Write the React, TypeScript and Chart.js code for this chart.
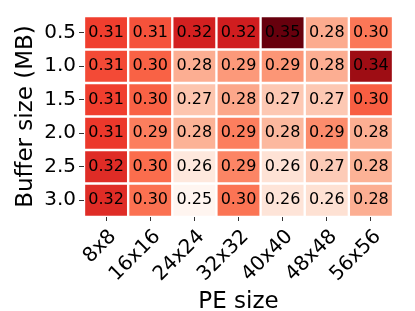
import React, { useEffect, useRef } from 'react';
import { Chart, registerables } from 'chart.js';

Chart.register(...registerables);

const peSizes = ['8x8', '16x16', '24x24', '32x32', '40x40', '48x48', '56x56'];
const bufferSizes = ['0.5', '1.0', '1.5', '2.0', '2.5', '3.0'];

const row05 = [0.311, 0.306, 0.321, 0.322, 0.3475, 0.281, 0.296];
const row10 = [0.308, 0.302, 0.280, 0.286, 0.287, 0.280, 0.337];
const row15 = [0.311, 0.302, 0.273, 0.282, 0.272, 0.272, 0.303];
const row20 = [0.313, 0.294, 0.279, 0.294, 0.277, 0.290, 0.280];
const row25 = [0.317, 0.299, 0.260, 0.292, 0.263, 0.271, 0.279];
const row30 = [0.317, 0.298, 0.2525, 0.297, 0.262, 0.264, 0.280];
const values = [row05, row10, row15, row20, row25, row30];

const FONT = '"DejaVu Sans", sans-serif';

const redsStops = ['#fff5f0', '#fee0d2', '#fcbba1', '#fc9272', '#fb6a4a', '#ef3b2c', '#cb181d', '#a50f15', '#67000d'];

function hexToRgb(h: string) {
  return [parseInt(h.slice(1, 3), 16), parseInt(h.slice(3, 5), 16), parseInt(h.slice(5, 7), 16)];
}

function reds(t: number) {
  const tt = Math.max(0, Math.min(1, t));
  const n = redsStops.length - 1;
  const pos = tt * n;
  const i = Math.min(n - 1, Math.floor(pos));
  const f = pos - i;
  const a = hexToRgb(redsStops[i]);
  const b = hexToRgb(redsStops[i + 1]);
  const c = a.map((v, k) => Math.round(v + (b[k] - v) * f));
  return `rgb(${c[0]},${c[1]},${c[2]})`;
}

export default function App() {
  const ref = useRef<HTMLCanvasElement>(null);
  useEffect(() => {
    const canvas = ref.current;
    if (!canvas) return;
    const all = values.flat();
    const vmin = Math.min(...all);
    const vmax = Math.max(...all);

    const cellText = {
      id: 'cellText',
      afterDatasetsDraw(chart: any) {
        const ctx = chart.ctx;
        ctx.save();
        ctx.font = `16px ${FONT}`;
        ctx.textAlign = 'center';
        ctx.textBaseline = 'middle';
        ctx.fillStyle = '#000000';
        chart.data.datasets.forEach((_ds: any, r: number) => {
          const meta = chart.getDatasetMeta(r);
          meta.data.forEach((el: any, c: number) => {
            const p = el.getCenterPoint();
            ctx.fillText(values[r][c].toFixed(2), p.x, p.y);
          });
        });
        ctx.restore();
      },
    };

    const chart = new Chart(canvas, {
      type: 'bar',
      data: {
        labels: peSizes,
        datasets: values.map((row, r) => ({
          label: bufferSizes[r],
          data: row.map(() => [r - 0.5, r + 0.5]),
          backgroundColor: row.map((v) => reds((v - vmin) / (vmax - vmin))),
          borderColor: '#ffffff',
          borderWidth: 1.5,
          borderSkipped: false,
          grouped: false,
          barPercentage: 1,
          categoryPercentage: 1,
        })) as any,
      },
      options: {
        animation: false,
        responsive: false,
        maintainAspectRatio: false,
        layout: { padding: { top: 16, right: 22, left: 0, bottom: 0 } },
        plugins: { legend: { display: false }, tooltip: { enabled: false } },
        scales: {
          x: {
            type: 'category',
            offset: true,
            grid: { display: true, drawOnChartArea: false, offset: false, tickLength: 4, tickColor: '#333333', tickWidth: 1 },
            border: { display: false },
            ticks: { color: '#000000', font: { family: FONT, size: 20 }, minRotation: 45, maxRotation: 45, padding: 4, labelOffset: 7, autoSkip: false },
            title: { display: true, text: 'PE size', color: '#000000', font: { family: FONT, size: 23, lineHeight: 0.8 }, padding: { top: 0, bottom: 0 } },
            afterFit: (s: any) => { s.height = 94; },
          },
          y: {
            type: 'linear',
            reverse: true,
            min: -0.5,
            max: 5.5,
            afterBuildTicks: (s: any) => { s.ticks = bufferSizes.map((_, i) => ({ value: i })); },
            grid: { display: true, drawOnChartArea: false, tickLength: 5, tickColor: '#333333', tickWidth: 1 },
            border: { display: false },
            ticks: { color: '#000000', font: { family: FONT, size: 20 }, padding: 3, callback: (v: any) => bufferSizes[v as number] ?? '' },
            title: { display: true, text: 'Buffer size (MB)', color: '#000000', font: { family: FONT, size: 23, lineHeight: 1 }, padding: { top: 14.5, bottom: 0 } },
            afterFit: (s: any) => { s.width = 84; },
          },
        },
      } as any,
      plugins: [cellText],
    });
    return () => chart.destroy();
  }, []);

  return (
    <div style={{ position: 'fixed', left: 0, top: 0, width: 415, height: 311, background: '#ffffff' }}>
      <canvas ref={ref} width={415} height={311} style={{ width: 415, height: 311, display: 'block' }} />
    </div>
  );
}
